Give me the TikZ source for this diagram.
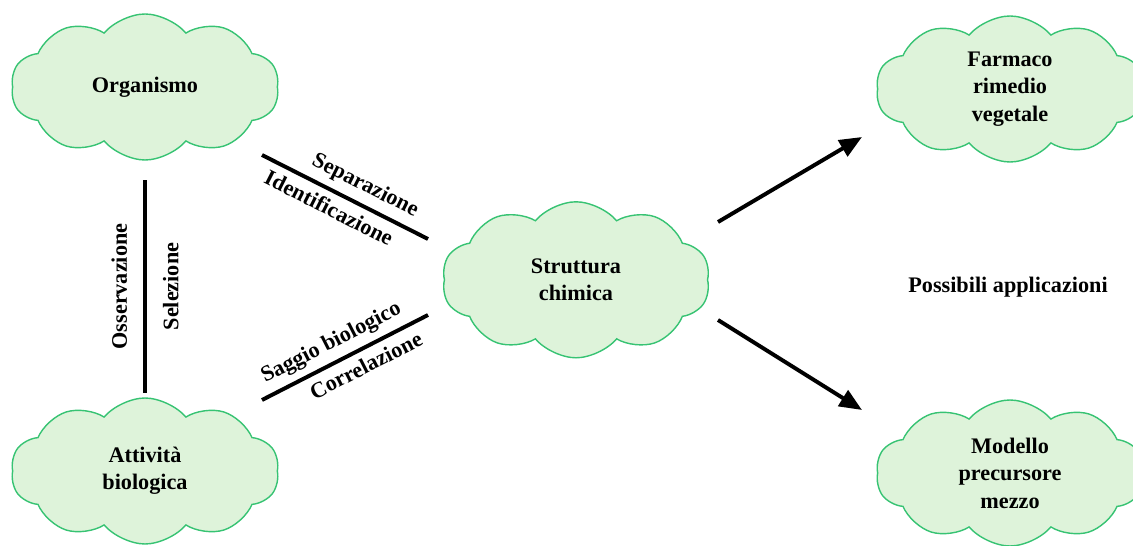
\documentclass[tikz,border=0pt]{standalone}
\usepackage{fontspec}
\setmainfont{Liberation Serif}
\usetikzlibrary{shapes.symbols,arrows.meta}
\definecolor{cloudfill}{RGB}{222,243,218}
\definecolor{cloudline}{RGB}{55,195,115}
\begin{document}
\begin{tikzpicture}[thick,
    font=\fontsize{15.8}{19.5}\selectfont\bfseries,
    nuvola/.style={cloud, cloud puffs=10, cloud puff arc=100, cloud ignores aspect,
      draw=cloudline, fill=cloudfill, line width=1pt, align=center,
      minimum width=6.7cm, minimum height=3.65cm},
    barra/.style={line width=2.8pt},
    freccia/.style={line width=2.8pt, -{Triangle[length=16pt,width=13pt]}}]
  \useasboundingbox (0,0) rectangle (28.325,13.625);
  \node[nuvola] (org) at (3.625,11.45) {Organismo};
  \node[nuvola] (att) at (3.625,1.85) {Attività\\biologica};
  \node[nuvola, minimum height=3.9cm] (str) at (14.4,6.63) {Struttura\\chimica};
  \node[nuvola] (farm) at (25.25,11.4) {Farmaco\\rimedio\\vegetale};
  \node[nuvola] (mod) at (25.25,1.8) {Modello\\precursore\\mezzo};
  \node (app) at (25.2,6.45) {Possibili applicazioni};
  % connectors between the clouds
  \coordinate (v1) at (3.625,3.8);
  \coordinate (v2) at (3.625,9.125);
  \coordinate (s1) at (6.55,9.75);
  \coordinate (s2) at (10.7,7.65);
  \coordinate (c1) at (6.55,3.625);
  \coordinate (c2) at (10.7,5.75);
  \coordinate (a1) at (17.95,8.075);
  \coordinate (a2) at (21.55,10.2);
  \coordinate (b1) at (17.95,5.625);
  \coordinate (b2) at (21.55,3.375);
  \draw[barra] (v1) -- (v2)
    node[midway, sloped, above=8pt] {Osservazione}
    node[midway, sloped, below=8pt] {Selezione};
  \draw[barra] (s1) -- (s2)
    node[pos=0.57, sloped, above=1.5pt] {Separazione}
    node[pos=0.45, sloped, below=1.5pt] {Identificazione};
  \draw[barra] (c1) -- (c2)
    node[pos=0.47, sloped, above=1.5pt] {Saggio biologico}
    node[pos=0.58, sloped, below=1.5pt] {Correlazione};
  \draw[freccia] (a1) -- (a2);
  \draw[freccia] (b1) -- (b2);
\end{tikzpicture}
\end{document}
